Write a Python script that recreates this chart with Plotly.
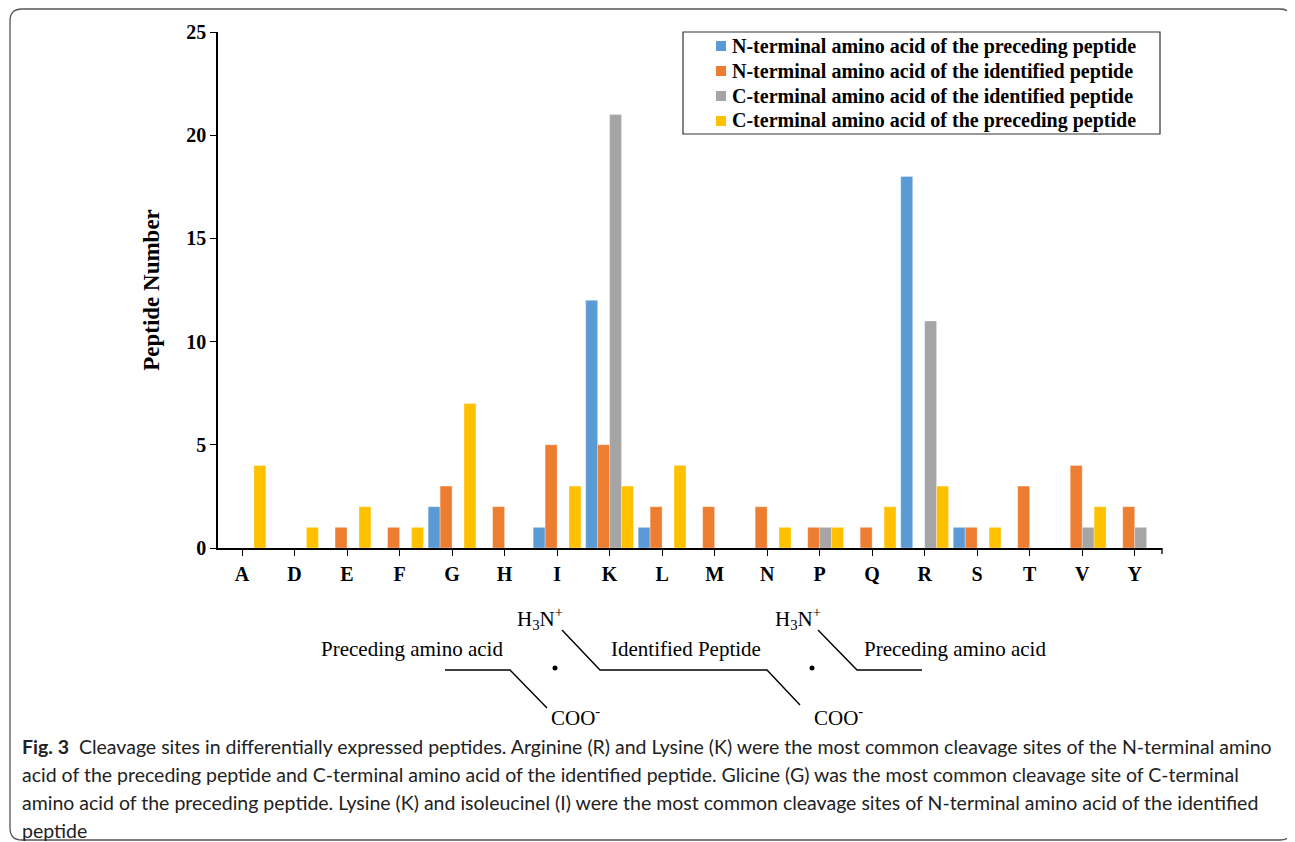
import plotly.graph_objects as go

categories = ["A", "D", "E", "F", "G", "H", "I", "K", "L", "M", "N", "P", "Q", "R", "S", "T", "V", "Y"]
n_term_preceding = [0, 0, 0, 0, 2, 0, 1, 12, 1, 0, 0, 0, 0, 18, 1, 0, 0, 0]
n_term_identified = [0, 0, 1, 1, 3, 2, 5, 5, 2, 2, 2, 1, 1, 0, 1, 3, 4, 2]
c_term_identified = [0, 0, 0, 0, 0, 0, 0, 21, 0, 0, 0, 1, 0, 11, 0, 0, 1, 1]
c_term_preceding = [4, 1, 2, 1, 7, 0, 3, 3, 4, 0, 1, 1, 2, 3, 1, 0, 2, 0]
series_names = [
    "N-terminal amino acid of the preceding peptide",
    "N-terminal amino acid of the identified peptide",
    "C-terminal amino acid of the identified peptide",
    "C-terminal amino acid of the preceding peptide",
]
series_values = [n_term_preceding, n_term_identified, c_term_identified, c_term_preceding]
colors = ["#5B9BD5", "#ED7D31", "#A5A5A5", "#FFC000"]
y_ticks = [0, 5, 10, 15, 20, 25]

caption_lines = [
    "Cleavage sites in differentially expressed peptides. Arginine (R) and Lysine (K) were the most common cleavage sites of the N-terminal amino",
    "acid of the preceding peptide and C-terminal amino acid of the identified peptide. Glicine (G) was the most common cleavage site of C-terminal",
    "amino acid of the preceding peptide. Lysine (K) and isoleucinel (I) were the most common cleavage sites of N-terminal amino acid of the identified",
    "peptide",
]

OFF = 8  # page body margin
W, H = 1295 - OFF, 842 - OFF
L, R, T, B = 218, 1162, 32, 548   # plot area in page pixels
PW, PH = R - L, B - T


def px(x):
    return (x - L) / PW


def py(y):
    return (B - y) / PH


fig = go.Figure()
for name, vals, col in zip(series_names, series_values, colors):
    fig.add_trace(go.Bar(
        x=categories, y=vals, name=name,
        marker=dict(color=col, line=dict(color="rgba(255,255,255,0.5)", width=0.6)),
    ))

serif = "Liberation Serif, Times New Roman, serif"

fig.update_layout(
    width=W, height=H, autosize=False,
    margin=dict(l=L - OFF, r=1295 - R, t=T - OFF, b=842 - B),
    paper_bgcolor="white", plot_bgcolor="white",
    barmode="group", bargap=0.09, bargroupgap=0,
    showlegend=False,
    xaxis=dict(
        range=[-0.457, 17.52], showline=True, linecolor="black", linewidth=1.5,
        ticks="outside", ticklen=6, tickcolor="black", tickwidth=1.3,
        tickfont=dict(family=serif, size=20, color="black", weight="bold"),
        ticklabelstandoff=1, showgrid=False, zeroline=False,
    ),
    yaxis=dict(
        range=[0, 25], tickvals=y_ticks, showline=True, linecolor="black", linewidth=1.5,
        ticks="outside", ticklen=6, tickcolor="black", tickwidth=1.3,
        tickfont=dict(family=serif, size=20, color="black", weight="bold"),
        showgrid=False, zeroline=False,
        title=dict(text="Peptide Number", font=dict(family=serif, size=23, color="black", weight="bold"), standoff=20),
    ),
)


def P(x, y):
    return f"{px(x)},{py(y)}"


shapes = []
annotations = []

# legend (frame, swatches, labels)
shapes.append(dict(type="rect", xref="paper", yref="paper", x0=px(683), x1=px(1160), y0=py(134), y1=py(32),
                   line=dict(color="#333", width=1.2), fillcolor="white", layer="below"))
leg_y = [46, 71, 96, 121]
for name, col, yy in zip(series_names, colors, leg_y):
    shapes.append(dict(type="rect", xref="paper", yref="paper", x0=px(716), x1=px(726),
                       y0=py(yy + 5), y1=py(yy - 5), fillcolor=col, line=dict(width=0)))
    annotations.append(dict(text=name, x=px(730), y=py(yy), xref="paper", yref="paper", showarrow=False,
                            xanchor="left", yanchor="middle",
                            font=dict(family=serif, size=20, color="black", weight="bold")))

# end tick of the x axis
shapes.append(dict(type="line", xref="paper", yref="paper", x0=1, x1=1, y0=0, y1=py(554),
                   line=dict(color="black", width=1.3)))

# outer rounded frame
r = 12
x0, x1, y0, y1 = 10, 1292, 9, 840
path = (f"M {P(x0 + r, y0)} L {P(x1 - r, y0)} Q {P(x1, y0)} {P(x1, y0 + r)} "
        f"L {P(x1, y1 - r)} Q {P(x1, y1)} {P(x1 - r, y1)} L {P(x0 + r, y1)} Q {P(x0, y1)} {P(x0, y1 - r)} "
        f"L {P(x0, y0 + r)} Q {P(x0, y0)} {P(x0 + r, y0)} Z")
shapes.append(dict(type="path", xref="paper", yref="paper", path=path, line=dict(color="#555", width=1.3)))

# peptide diagram lines
diagram_lines = [
    [(445, 670), (510, 670), (547, 708)],
    [(562, 630), (600, 670), (767, 670), (800, 705)],
    [(818, 630), (857, 670), (922, 670)],
]
for pts in diagram_lines:
    d = "M " + " L ".join(P(x, y) for x, y in pts)
    shapes.append(dict(type="path", xref="paper", yref="paper", path=d, line=dict(color="black", width=1.4)))
for cx, cy in [(555, 668), (812, 668)]:
    shapes.append(dict(type="circle", xref="paper", yref="paper",
                       x0=px(cx - 2.5), x1=px(cx + 2.5), y0=py(cy + 2.5), y1=py(cy - 2.5),
                       fillcolor="black", line=dict(color="black", width=0)))
fig.update_layout(shapes=shapes)


def add_text(text, x, y, size=21, family=serif, xanchor="center"):
    annotations.append(dict(text=text, x=px(x), y=py(y), xref="paper", yref="paper", showarrow=False,
                            xanchor=xanchor, yanchor="middle",
                            font=dict(family=family, size=size, color="black")))


add_text("Preceding amino acid", 412, 649)
add_text("Identified Peptide", 686, 649)
add_text("Preceding amino acid", 955, 649)
add_text("H<sub>3</sub>N<sup>+</sup>", 540, 618)
add_text("H<sub>3</sub>N<sup>+</sup>", 798, 618)
add_text("COO<sup>-</sup>", 575, 716)
add_text("COO<sup>-</sup>", 838, 716)

cap_font = "Lato, Noto Sans, sans-serif"
cap_size = 19.5
cap_y = [746, 774, 802, 830]
texts = ["<b>Fig. 3</b>  " + caption_lines[0]] + caption_lines[1:]
for line, yy in zip(texts, cap_y):
    annotations.append(dict(text=line, x=px(20), y=py(yy), xref="paper", yref="paper",
                            showarrow=False, xanchor="left", yanchor="middle",
                            font=dict(family=cap_font, size=cap_size, color="#222")))
fig.update_layout(annotations=annotations)

fig.write_html("out.html")
